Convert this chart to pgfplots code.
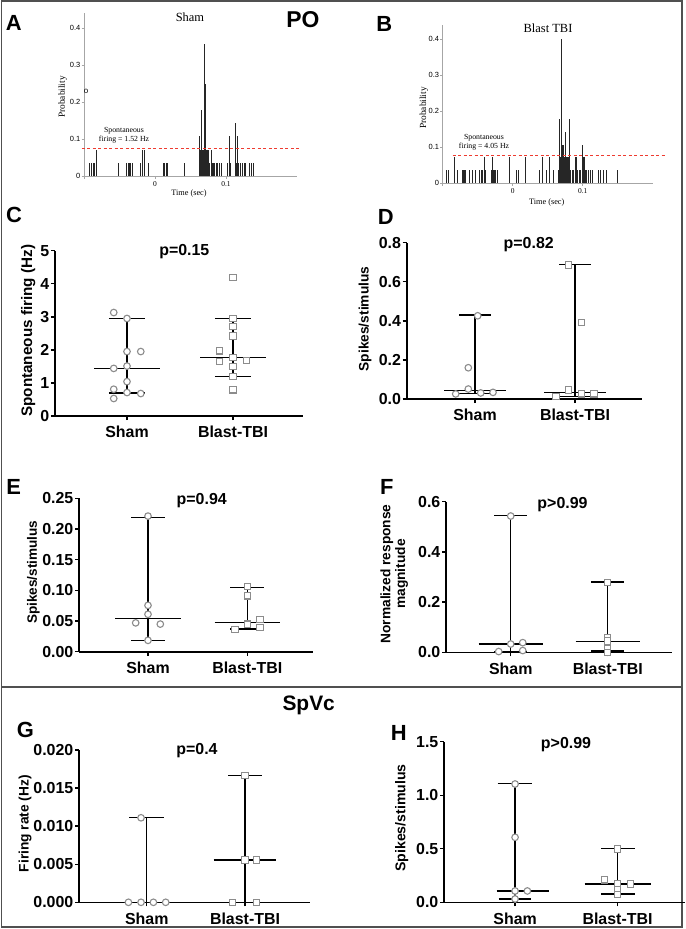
\documentclass[border=0pt]{standalone}
\usepackage{pgfplots}
\pgfplotsset{compat=1.18}
\usepackage{fontspec}
\setmainfont{Liberation Sans}
\newfontfamily\serif{Liberation Serif}
\definecolor{mk}{HTML}{8C8C8C}
\definecolor{frm}{HTML}{505050}
\definecolor{rdash}{HTML}{EE3B30}
\pgfplotsset{
 cirm/.style={only marks, mark=*, mark size=3.3bp, mark options={fill=white, draw=mk, line width=1.1bp}},
 sqm/.style={only marks, mark=square*, mark size=3.1bp, mark options={fill=white, draw=mk, line width=1.1bp}},
 iqr/.style={black, line width=1.3bp, no marks},
 scat/.style={scale only axis, anchor=south west, clip=false,
   axis x line=bottom, axis y line=left, axis line style={-, line width=1.6bp},
   tick align=outside, major tick length=4bp, tick style={line width=1.4bp, black},
   xtick={0,1}, xticklabels={Sham,Blast-TBI},
   ticklabel style={font=\fontsize{16}{16}\selectfont\bfseries},
   scaled y ticks=false,
   /pgf/number format/assume math mode=true,
   yticklabel style={inner sep=1.5bp},
   xticklabel style={inner sep=2bp, yshift=-4bp},
 },
 psth/.style={scale only axis, anchor=south west, clip=false,
   xmin=-100, xmax=200, ymin=0, ymax=0.44,
   axis x line=bottom, axis y line=left, axis line style={-, gray!70, line width=0.7bp},
   xtick={-100,0,100}, xticklabels={,0,0.1},
   ytick={0,0.1,0.2,0.3,0.4}, yticklabels={0,0.1,0.2,0.3,0.4},
   tick align=outside, major tick length=2.5bp, tick style={gray!70, line width=0.5bp},
   xticklabel style={font=\serif\fontsize{7.5}{7.5}\selectfont},
   yticklabel style={font=\fontsize{7.5}{7.5}\selectfont, inner sep=1bp},
   /pgf/number format/assume math mode=true,
 },
 bars/.style={ycomb, black!85, line width=1bp, no marks},
 rline/.style={draw=rdash, dash pattern=on 3bp off 2.5bp, line width=1bp, no marks},
}
\newcommand{\seg}[4]{\addplot[iqr] coordinates {(#1,#2) (#3,#4)};}
\newcommand{\lab}[3]{\node[font=\fontsize{22}{22}\selectfont\bfseries] at (#1bp,-#2bp) {#3};}
\newcommand{\yl}[4]{\node[rotate=90, font=\fontsize{#1}{#1}\selectfont\bfseries] at (#2bp,-#3bp) {#4};}
\newcommand{\pv}[3]{\node[font=\fontsize{16}{16}\selectfont\bfseries] at (#1bp,-#2bp) {#3};}
\begin{document}
\begin{tikzpicture}
\path[use as bounding box] (0,0) rectangle (686bp,-929bp);
\fill[white] (0,0) rectangle (686bp,-929bp);
\draw[frm, line width=1.5bp] (1.5bp,-1bp) rectangle (682bp,-927bp);
\draw[frm, line width=1.5bp] (1.5bp,-687bp) -- (682bp,-687bp);

% ---------- A ----------
\begin{axis}[psth, at={(84bp,-176bp)}, width=213bp, height=162.8bp]
\addplot[bars] coordinates {(-92,0.0357) (-89,0.0357) (-87,0.0357) (-85,0.0357) (-82,0.0714)
 (-51,0.0357) (-40,0.0357) (-38,0.0357) (-36,0.0357) (-34,0.0357) (-32,0.0357)
 (-20,0.0357) (-17,0.0714) (-15,0.0714) (-8.5,0.0357)
 (12,0.0357) (14,0.0357) (16,0.0357) (18,0.0357) (41,0.0357)
 (63,0.1071) (64,0.0714) (65,0.1429) (66,0.1786) (67,0.0714) (68,0.0714) (69,0.0714)
 (70,0.3571) (71,0.25) (72,0.0714) (73,0.0714) (74,0.0714) (75,0.0714) (76,0.0357) (77,0.0357)
 (79,0.0714) (81,0.0357) (83,0.0357) (84,0.0357) (86,0.0357) (88,0.0357) (91,0.0357) (93,0.0357)
 (102,0.0357) (105,0.1071) (107,0.0357) (113,0.1429) (115,0.0357) (116.5,0.1071) (118,0.0357)
 (121,0.0357) (123.5,0.0357) (126,0.0357) (128,0.0357) (133,0.0357) (136,0.0357) (139,0.0357)};
\addplot[rline] coordinates {(-103,0.0750) (206,0.0750)};
\end{axis}
\node[font=\serif\fontsize{12.5}{12.5}\selectfont] at (190bp,-17bp) {Sham};
\node[font=\serif\fontsize{9.4}{9.4}\selectfont, rotate=90] at (62.7bp,-97bp) {Probability};
\node[font=\serif\fontsize{8.3}{8.3}\selectfont] at (189bp,-194bp) {Time (sec)};
\node[font=\serif\fontsize{7.8}{9.5}\selectfont, align=center] at (124bp,-135bp) {Spontaneous\\firing = 1.52 Hz};
\node[font=\fontsize{8}{8}\selectfont] at (86bp,-91bp) {o};
\node[font=\fontsize{23}{23}\selectfont\bfseries] at (302.8bp,-19.7bp) {PO};
\lab{13.8}{23.3}{A}

% ---------- B ----------
\begin{axis}[psth, at={(442.7bp,-183bp)}, width=210bp, height=158bp]
\addplot[bars] coordinates {(-94,0.0357) (-92,0.0357) (-83,0.0714) (-79,0.0357)
 (-72,0.0357) (-71,0.0357) (-70,0.0357) (-69,0.0357) (-68,0.0357) (-62,0.0357) (-58,0.0357) (-53,0.0357)
 (-47,0.0357) (-45,0.0357) (-43,0.0357) (-41,0.0714) (-39,0.0357)
 (-30,0.0357) (-29,0.0714) (-28,0.0357) (-27,0.0357) (-26,0.0357) (-24,0.0357) (-22,0.0357)
 (-4,0.0714) (6,0.0357) (8,0.0357) (18,0.0714)
 (38,0.0357) (43,0.0714) (48,0.0357) (52,0.0714) (58,0.0357)
 (66,0.0357) (67,0.1786) (68,0.0714) (69,0.4) (70,0.1071) (71,0.1071) (72,0.1071) (73,0.1071)
 (74,0.0714) (75,0.1429) (76,0.0714) (77,0.0714) (78,0.0714) (79,0.0714) (80,0.0714) (81,0.1786)
 (82,0.0357) (83,0.0357) (85,0.0357) (87,0.0357) (89,0.0714) (90,0.0714) (91,0.0714) (93,0.0357)
 (95,0.0357) (97,0.0357) (99,0.0357) (100,0.1071) (101,0.0714) (102,0.0714) (103,0.0714)
 (104,0.0357) (106,0.0357) (108,0.0357) (111,0.0357) (114,0.0357)
 (123,0.0357) (126,0.0357) (130,0.0357) (134,0.0357) (149,0.0357)};
\addplot[rline] coordinates {(-86,0.0770) (217,0.0770)};
\end{axis}
\node[font=\serif\fontsize{12.5}{12.5}\selectfont] at (548bp,-28bp) {Blast TBI};
\node[font=\serif\fontsize{9.4}{9.4}\selectfont, rotate=90] at (424bp,-108bp) {Probability};
\node[font=\serif\fontsize{8.3}{8.3}\selectfont] at (546.7bp,-202.3bp) {Time (sec)};
\node[font=\serif\fontsize{7.8}{9.5}\selectfont, align=center] at (484bp,-142bp) {Spontaneous\\firing = 4.05 Hz};
\lab{384.3}{23.7}{B}

% ---------- C ----------
\begin{axis}[scat, at={(55bp,-416bp)}, width=248bp, height=165.3bp,
  xmin=-0.679, xmax=1.66, ymin=0, ymax=5, ytick={0,1,2,3,4,5}]
\seg{-0.31}{1.44}{0.31}{1.44}
\seg{-0.17}{0.70}{0.17}{0.70}
\seg{-0.17}{2.95}{0.17}{2.95}
\seg{0}{0.70}{0}{2.95}
\seg{0.69}{1.77}{1.31}{1.77}
\seg{0.83}{1.19}{1.17}{1.19}
\seg{0.83}{2.95}{1.17}{2.95}
\seg{1}{1.19}{1}{2.95}
\addplot[cirm] coordinates {(-0.125,3.13) (0,2.95) (0,1.95) (0.13,1.95) (-0.125,1.44) (0,1.51) (0,1.04) (-0.125,0.81) (0,0.71) (0.13,0.68) (-0.125,0.53)};
\addplot[sqm] coordinates {(1,4.20) (1,2.95) (1,2.70) (1,2.42) (0.875,1.97) (0.875,1.64) (1.125,1.67) (1,1.77) (1,1.49) (1,1.19) (1,0.79)};
\end{axis}
\lab{14}{214.5}{C}
\yl{15.3}{28.3}{330.8}{Spontaneous firing (Hz)}
\pv{184.3}{252}{p=0.15}

% ---------- D ----------
\begin{axis}[scat, at={(406.7bp,-399bp)}, width=235bp, height=156.3bp,
  xmin=-0.683, xmax=1.667, ymin=0, ymax=0.8, ytick={0,0.2,0.4,0.6,0.8},
  yticklabel style={/pgf/number format/fixed, /pgf/number format/fixed zerofill, /pgf/number format/precision=1}]
\seg{-0.31}{0.044}{0.31}{0.044}
\seg{-0.16}{0.43}{0.16}{0.43}
\seg{-0.16}{0.028}{0.16}{0.028}
\seg{0}{0.028}{0}{0.43}
\seg{0.69}{0.035}{1.31}{0.035}
\seg{0.84}{0.69}{1.16}{0.69}
\seg{0.84}{0.012}{1.16}{0.012}
\seg{1}{0.012}{1}{0.69}
\addplot[cirm] coordinates {(0.027,0.426) (-0.067,0.16) (-0.067,0.051) (-0.193,0.026) (0.057,0.031) (0.18,0.034)};
\addplot[sqm] coordinates {(0.937,0.686) (1.063,0.39) (0.937,0.046) (0.81,0.012) (1.063,0.026) (1.19,0.026)};
\end{axis}
\lab{385.7}{216.7}{D}
\yl{13.8}{365}{319}{Spikes/stimulus}
\pv{528.7}{244.5}{p=0.82}

% ---------- E ----------
\begin{axis}[scat, at={(79bp,-651.7bp)}, width=234bp, height=153.4bp,
  xmin=-0.695, xmax=1.662, ymin=0, ymax=0.25, ytick={0,0.05,0.10,0.15,0.20,0.25},
  yticklabel style={/pgf/number format/fixed, /pgf/number format/fixed zerofill, /pgf/number format/precision=2}]
\seg{-0.33}{0.054}{0.33}{0.054}
\seg{-0.17}{0.219}{0.17}{0.219}
\seg{-0.17}{0.0185}{0.17}{0.0185}
\seg{0}{0.0185}{0}{0.219}
\seg{0.67}{0.048}{1.33}{0.048}
\seg{0.83}{0.105}{1.17}{0.105}
\seg{0.83}{0.037}{1.17}{0.037}
\seg{1}{0.037}{1}{0.105}
\addplot[cirm] coordinates {(0,0.221) (0,0.0755) (0,0.061) (-0.124,0.047) (0.124,0.045) (0,0.0185)};
\addplot[sqm] coordinates {(1,0.106) (1,0.091) (1,0.045) (0.876,0.036) (1.128,0.052) (1.128,0.039)};
\end{axis}
\lab{13.7}{487}{E}
\yl{13.6}{33.3}{572.3}{Spikes/stimulus}
\pv{201.7}{500.5}{p=0.94}

% ---------- F ----------
\begin{axis}[scat, at={(446bp,-652.3bp)}, width=225.7bp, height=150.6bp,
  xmin=-0.667, xmax=1.659, ymin=0, ymax=0.6, ytick={0,0.2,0.4,0.6},
  yticklabel style={/pgf/number format/fixed, /pgf/number format/fixed zerofill, /pgf/number format/precision=1}]
\seg{-0.33}{0.033}{0.33}{0.033}
\seg{-0.17}{0.545}{0.17}{0.545}
\seg{-0.17}{0.003}{0.17}{0.003}
\seg{0}{0.003}{0}{0.545}
\seg{0.67}{0.044}{1.33}{0.044}
\seg{0.83}{0.28}{1.17}{0.28}
\seg{0.83}{0.005}{1.17}{0.005}
\seg{1}{0.005}{1}{0.28}
\addplot[cirm] coordinates {(0,0.543) (0,0.033) (0.124,0.0385) (-0.124,0.003) (0.124,0.007)};
\addplot[sqm] coordinates {(1,0.279) (1,0.06) (1,0.045) (1,0.016) (1,0.0)};
\end{axis}
\lab{386.7}{487}{F}
\node[rotate=90, align=center, font=\fontsize{13.8}{15}\selectfont\bfseries] at (394.2bp,-574bp) {Normalized response\\magnitude};
\pv{562.5}{504.5}{p>0.99}

% ---------- G ----------
\begin{axis}[scat, at={(79bp,-902.3bp)}, width=231bp, height=152.3bp,
  xmin=-0.689, xmax=1.661, ymin=0, ymax=0.02, ytick={0,0.005,0.010,0.015,0.020},
  yticklabel style={/pgf/number format/fixed, /pgf/number format/fixed zerofill, /pgf/number format/precision=3}]
\seg{-0.32}{0}{0.32}{0}
\seg{-0.18}{0.0111}{0.18}{0.0111}
\seg{0}{0}{0}{0.0111}
\seg{0.68}{0.00556}{1.32}{0.00556}
\seg{0.83}{0.01667}{1.17}{0.01667}
\seg{1}{0}{1}{0.01667}
\addplot[cirm] coordinates {(-0.058,0.0111) (-0.186,0) (-0.058,0) (0.068,0) (0.193,0)};
\addplot[sqm] coordinates {(1,0.01663) (1,0.00556) (1.119,0.00556) (0.875,0) (1.119,0)};
\end{axis}
\lab{25.5}{730}{G}
\yl{13.8}{25}{823.7}{Firing rate (Hz)}
\pv{197}{750.5}{p=0.4}
\node[font=\fontsize{21}{21}\selectfont\bfseries] at (308.7bp,-705bp) {SpVc};

% ---------- H ----------
\begin{axis}[scat, at={(444bp,-902.3bp)}, width=241bp, height=160.6bp,
  xmin=-0.694, xmax=1.659, ymin=0, ymax=1.5, ytick={0,0.5,1.0,1.5},
  yticklabel style={/pgf/number format/fixed, /pgf/number format/fixed zerofill, /pgf/number format/precision=1}]
\seg{-0.18}{0.106}{0.33}{0.106}
\seg{-0.17}{1.11}{0.17}{1.11}
\seg{-0.16}{0.031}{0.16}{0.031}
\seg{0}{0.031}{0}{1.11}
\seg{0.68}{0.171}{1.33}{0.171}
\seg{0.84}{0.50}{1.17}{0.50}
\seg{0.84}{0.078}{1.17}{0.078}
\seg{1}{0.078}{1}{0.50}
\addplot[cirm] coordinates {(0,1.105) (0,0.607) (0,0.106) (0.12,0.106) (0,0.031)};
\addplot[sqm] coordinates {(1,0.498) (0.873,0.209) (1,0.171) (1.124,0.171) (1,0.115) (1,0.075)};
\end{axis}
\lab{398.7}{732.5}{H}
\yl{14.2}{401.7}{818}{Spikes/stimulus}
\pv{566}{745}{p>0.99}
\end{tikzpicture}
\end{document}
